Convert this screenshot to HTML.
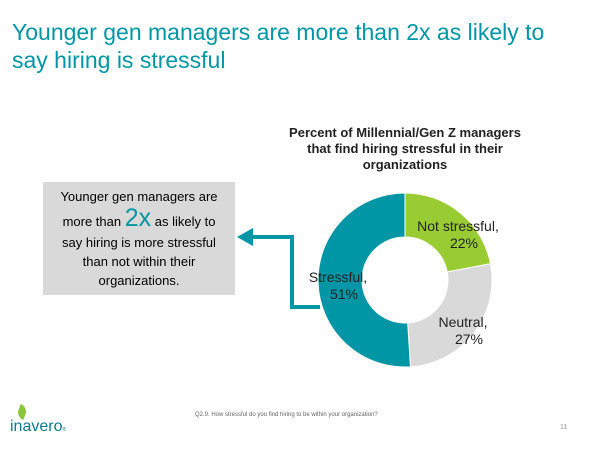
<!DOCTYPE html>
<html><head><meta charset="utf-8"><style>
body{margin:0;width:600px;height:450px;background:#fff;font-family:"Liberation Sans","DejaVu Sans",sans-serif;position:relative;overflow:hidden}
.t{position:absolute}
</style></head><body>
<div class="t" style="left:12px;top:18px;font-size:23px;line-height:28px;color:#0096a6;width:555px">Younger gen managers are more than 2x as likely to say hiring is stressful</div>
<div class="t" style="left:43px;top:182px;width:192px;height:113px;background:#d9d9d9;font-size:13px;color:#000;text-align:center">
<div style="margin-top:5px;line-height:20px">Younger gen managers are</div>
<div style="line-height:22px">more than <span style="font-size:25px;color:#0096a6">2x</span> as likely to</div>
<div style="line-height:19px">say hiring is more stressful<br>than not within their<br>organizations.</div>
</div>
<svg class="t" style="left:0;top:0" width="600" height="450">
<text x="405" y="137" font-size="13" font-weight="bold" text-anchor="middle" fill="#222"><tspan x="405">Percent of Millennial/Gen Z managers</tspan><tspan x="405" dy="16">that find hiring stressful in their</tspan><tspan x="405" dy="16">organizations</tspan></text>
<polyline points="320,307 292,307 292,237 250,237" fill="none" stroke="#0096a6" stroke-width="4"/>
<polygon points="237,237 253,228 253,246" fill="#0096a6"/>
<g id="donut"></g>
</svg>
<div class="t" style="left:195px;top:412px;font-size:6px;color:#666">Q2.9. How stressful do you find hiring to be within your organization?</div>
<div class="t" style="left:560px;top:424px;font-size:7px;color:#999">11</div>
<div class="t" style="left:10px;top:418px;font-size:16px;color:#0b7d8c">inavero<span style="font-size:5px">®</span></div>
<div class="t" style="left:18px;top:405px;width:8px;height:14px;background:#8cc63f;border-radius:0 8px 0 8px;transform:rotate(20deg)"></div>
<script>
const categories=["Not stressful","Neutral","Stressful"];
const values=[22,27,51];
const colors=["#99cc33","#d9d9d9","#0096a6"];
const cx=405,cy=280,R=87,r=43;
const g=document.getElementById('donut');
const ns="http://www.w3.org/2000/svg";
const total=values.reduce((a,b)=>a+b,0);
let a0=0;
const labelPos=[[458,231],[463,327],[338,282]];
values.forEach((v,i)=>{
 const a1=a0+v/total*2*Math.PI;
 const p=(a,rad)=>[cx+rad*Math.sin(a),cy-rad*Math.cos(a)];
 const [x0,y0]=p(a0,R),[x1,y1]=p(a1,R),[x2,y2]=p(a1,r),[x3,y3]=p(a0,r);
 const lg=(a1-a0)>Math.PI?1:0;
 const path=document.createElementNS(ns,'path');
 path.setAttribute('d',`M${x0},${y0}A${R},${R} 0 ${lg} 1 ${x1},${y1}L${x2},${y2}A${r},${r} 0 ${lg} 0 ${x3},${y3}Z`);
 path.setAttribute('fill',colors[i]);
 path.setAttribute('stroke','#fff');
 path.setAttribute('stroke-width','1');
 
 
 g.appendChild(path);
 const t=document.createElementNS(ns,'text');
 t.setAttribute('x',labelPos[i][0]);t.setAttribute('y',labelPos[i][1]);
 t.setAttribute('font-size','14');t.setAttribute('text-anchor','middle');t.setAttribute('fill','#222');
 
 
 t.innerHTML=`<tspan x="${labelPos[i][0]}">${categories[i]},</tspan><tspan x="${labelPos[i][0]+6}" dy="17">${v}%</tspan>`;
 g.appendChild(t);
 a0=a1;
});
</script>
</body></html>
